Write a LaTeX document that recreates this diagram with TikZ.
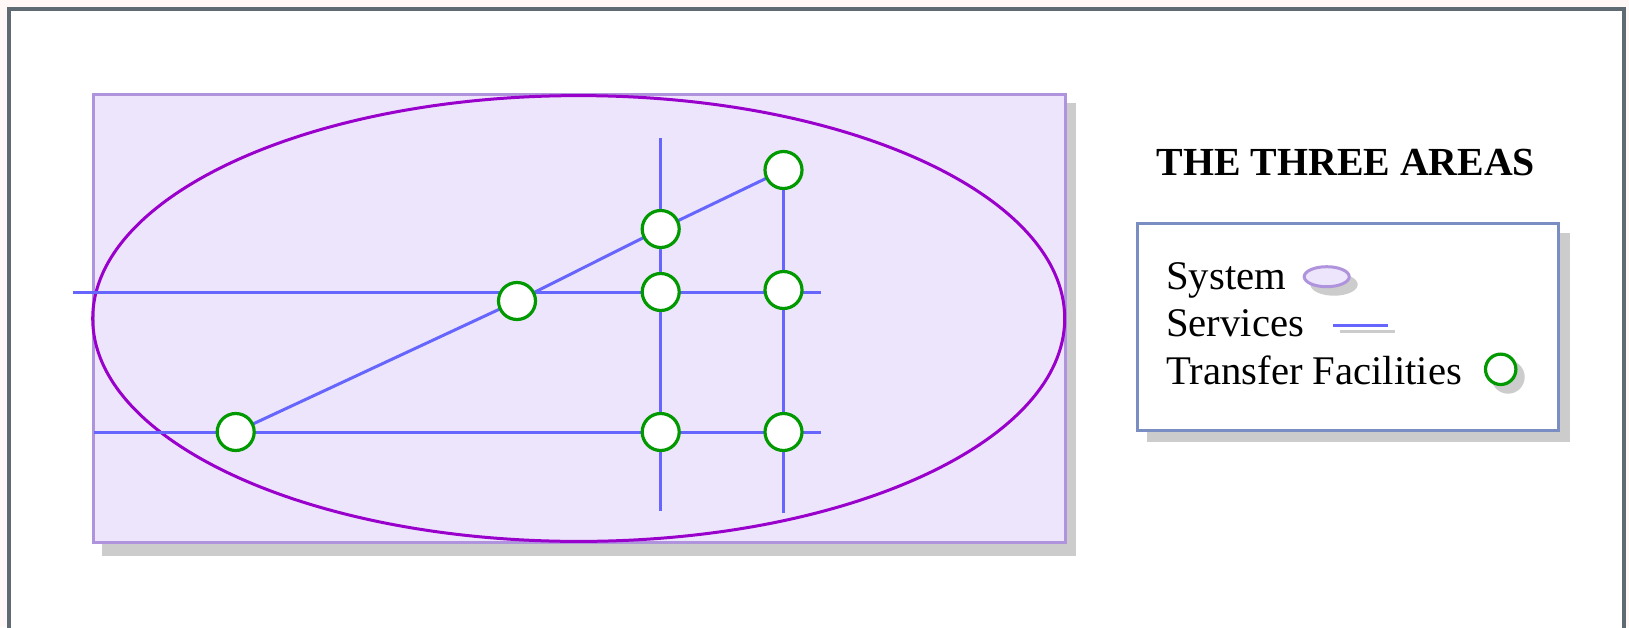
\documentclass[tikz,border=0pt]{standalone}
\usepackage{fontspec}
\setmainfont{Liberation Serif}
\definecolor{bgpink}{HTML}{FFF8F6}
\definecolor{framegray}{HTML}{5F6B73}
\definecolor{shadowgray}{HTML}{CCCCCC}
\definecolor{lavender}{HTML}{EDE5FB}
\definecolor{rectpurple}{HTML}{B093DD}
\definecolor{ellpurple}{HTML}{9900CC}
\definecolor{svcblue}{HTML}{6666FF}
\definecolor{tfgreen}{HTML}{009900}
\definecolor{legendblue}{HTML}{7A8EC4}
\begin{document}
\begin{tikzpicture}[x=1pt,y=-1pt,
  svc/.style={draw=svcblue,line width=3pt},
  tf/.style={circle,draw=tfgreen,fill=white,line width=3.2pt,minimum size=37pt,inner sep=0pt},
  shadowfill/.style={fill=shadowgray},
  legtext/.style={anchor=base west,inner sep=0pt,font=\fontsize{40.7}{48}\selectfont}]
\useasboundingbox (0,0) rectangle (1629,627);
\fill[bgpink] (0,0) rectangle (1629,627);
\fill[white] (9,8.7) rectangle (1624,650);
\draw[framegray,line width=4pt] (9,650) -- (9,8.7) -- (1624,8.7) -- (1624,650);
% main area
\fill[shadowfill] (102,103) rectangle (1076,556);
\draw[rectpurple,fill=lavender,line width=3pt] (93.5,94.5) rectangle (1065,542);
\draw[ellpurple,line width=3pt] (578.7,318.5) ellipse [x radius=486, y radius=222.9];
% facility positions
\coordinate (c1) at (235.7,432);
\coordinate (c2) at (517,301);
\coordinate (c3) at (660.7,229);
\coordinate (c4) at (660.7,292);
\coordinate (c5) at (783.5,170);
\coordinate (c6) at (783.5,290);
\coordinate (c7) at (660.7,432);
\coordinate (c8) at (783.5,432);
% line ends
\coordinate (h1a) at (72.7,292);
\coordinate (h1b) at (820.7,292);
\coordinate (h2a) at (93.5,432);
\coordinate (h2b) at (820.7,432);
\coordinate (v1a) at (660.7,138);
\coordinate (v1b) at (660.7,511);
\coordinate (v2b) at (783.5,513);
% services
\draw[svc] (h1a) -- (h1b);
\draw[svc] (h2a) -- (h2b);
\draw[svc] (v1a) -- (v1b);
\draw[svc] (c5) -- (v2b);
\draw[svc] (c1) -- (c2) -- (c3) -- (c5);
% transfer facilities
\node[tf] (t1) at (c1) {};
\node[tf] (t2) at (c2) {};
\node[tf] (t3) at (c3) {};
\node[tf] (t4) at (c4) {};
\node[tf] (t5) at (c5) {};
\node[tf] (t6) at (c6) {};
\node[tf] (t7) at (c7) {};
\node[tf] (t8) at (c8) {};
% legend
\node[legtext,font=\bfseries\fontsize{39.8}{47}\selectfont] (title) at (1156.7,175) {THE THREE AREAS};
\fill[shadowfill] (1147,233) rectangle (1570,442);
\draw[legendblue,fill=white,line width=3pt] (1137.5,223.5) rectangle (1558,430.5);
\node[legtext] (lsys) at (1166,289) {System};
\node[legtext] (lsvc) at (1166,336.5) {Services};
\node[legtext] (ltf) at (1166,384) {Transfer Facilities};
% legend symbols
\fill[shadowfill] (1334,284.5) ellipse [x radius=23.7, y radius=11.2];
\draw[rectpurple,fill=lavender,line width=3pt] (1326.7,276.7) ellipse [x radius=22.5, y radius=10];
\draw[shadowgray,line width=3pt] (1340,331.3) -- (1395,331.3);
\draw[svcblue,line width=3pt] (1333,325) -- (1388,325);
\fill[shadowfill] (1508,377) circle [radius=16.7];
\draw[tfgreen,fill=white,line width=3.2pt] (1500.7,369.3) circle [radius=15.2];
\end{tikzpicture}
\end{document}
